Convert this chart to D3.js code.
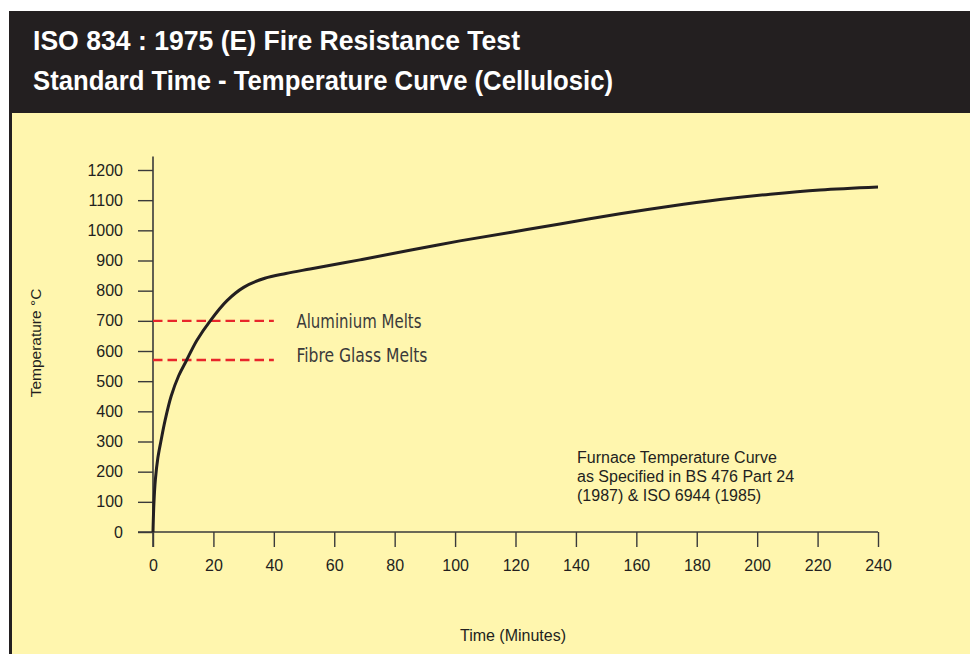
<!DOCTYPE html>
<html>
<head>
<meta charset="utf-8">
<script src="https://cdnjs.cloudflare.com/ajax/libs/d3/7.8.5/d3.min.js"></script>
<style>
    body { margin: 0; padding: 0; background: #ffffff; }
    svg { display: block; }
    .axis text { font-family: "Liberation Sans", Arial, sans-serif; font-size: 16px; fill: #231f20; }
    .axis line { stroke: #3a3a3a; stroke-width: 1.4px; }
    .axis path { display: none; }
</style>
</head>
<body>
<script>
//wrap everything in a self-executing anonymous function
(function(){

    //time in minutes and furnace temperature
    var timeMin = [0, 0.3, 0.8, 1.6, 2.6, 4, 6, 8.5, 11, 14.5, 19, 24.5, 30, 37, 44, 52, 68.5, 85, 101.6, 118.2, 134.7, 154.6, 171.1, 187.7, 204.3, 220.8, 240];
    var tempC = [0, 95, 175, 245, 300, 370, 450, 518, 567, 635, 701, 767, 811, 841, 857, 872, 902, 934, 965, 993, 1021, 1055, 1080, 1102, 1120, 1134, 1144];

    //tick labels
    var xTicks = [0, 20, 40, 60, 80, 100, 120, 140, 160, 180, 200, 220, 240];
    var yTicks = [0, 100, 200, 300, 400, 500, 600, 700, 800, 900, 1000, 1100, 1200];

    //melting point reference lines
    var meltNames = ["Aluminium Melts", "Fibre Glass Melts"];
    var meltTemps = [700, 570];
    var meltSpan = [0, 40]; //minutes covered by the dashed lines

    var titleLines = ["ISO 834 : 1975 (E) Fire Resistance Test", "Standard Time - Temperature Curve (Cellulosic)"];
    var noteLines = ["Furnace Temperature Curve", "as Specified in BS 476 Part 24", "(1987) & ISO 6944 (1985)"];

    window.onload = setChart();

    function setChart(){
        var width = 970,
            height = 654;

        var svg = d3.select("body")
            .append("svg")
            .attr("width", width)
            .attr("height", height);

        //dark frame and yellow panel
        svg.append("rect")
            .attr("x", 9)
            .attr("y", 11)
            .attr("width", width - 9)
            .attr("height", height - 11)
            .style("fill", "#231f20");

        svg.append("rect")
            .attr("x", 12)
            .attr("y", 113)
            .attr("width", width - 12)
            .attr("height", height - 113)
            .style("fill", "#fff6ae");

        //title
        svg.selectAll(".title")
            .data(titleLines)
            .enter()
            .append("text")
            .attr("class", "title")
            .attr("x", 33)
            .attr("y", function(d, i){ return 50 + i * 40; })
            .attr("textLength", function(d, i){ return i == 0 ? 487 : 580; })
            .attr("lengthAdjust", "spacingAndGlyphs")
            .style("font-family", "'Liberation Sans', Arial, sans-serif")
            .style("font-weight", "bold")
            .style("font-size", "28px")
            .style("fill", "#ffffff")
            .text(function(d){ return d; });

        //scales
        var x = d3.scaleLinear()
            .domain([0, 240])
            .range([153, 878]);

        var y = d3.scaleLinear()
            .domain([0, 1200])
            .range([532, 170]);

        //axes
        var xAxis = d3.axisBottom(x)
            .tickValues(xTicks)
            .tickSize(15)
            .tickPadding(13)
            .tickFormat(d3.format("d"));

        var yAxis = d3.axisLeft(y)
            .tickValues(yTicks)
            .tickSize(15)
            .tickPadding(15)
            .tickFormat(d3.format("d"));

        svg.append("g")
            .attr("class", "axis")
            .attr("transform", "translate(0," + y(0) + ")")
            .call(xAxis);

        svg.append("g")
            .attr("class", "axis")
            .attr("transform", "translate(" + x(0) + ",0)")
            .call(yAxis);

        //axis lines, the x line runs left under the y ticks
        svg.append("line")
            .attr("x1", x(0) - 15)
            .attr("x2", x(240))
            .attr("y1", y(0))
            .attr("y2", y(0))
            .style("stroke", "#3a3a3a")
            .style("stroke-width", 1.6);

        svg.append("line")
            .attr("x1", x(0))
            .attr("x2", x(0))
            .attr("y1", y(0) + 15)
            .attr("y2", y(1245))
            .style("stroke", "#3a3a3a")
            .style("stroke-width", 1.6);

        //dashed melting lines
        svg.selectAll(".melt")
            .data(meltTemps)
            .enter()
            .append("line")
            .attr("class", "melt")
            .attr("x1", x(meltSpan[0]))
            .attr("x2", x(meltSpan[1]))
            .attr("y1", function(d){ return y(d); })
            .attr("y2", function(d){ return y(d); })
            .style("stroke", "#e8262b")
            .style("stroke-width", 2.4)
            .style("stroke-dasharray", "9.5,5");

        svg.selectAll(".meltLabel")
            .data(meltNames)
            .enter()
            .append("text")
            .attr("class", "meltLabel")
            .attr("x", x(47.5))
            .attr("y", function(d, i){ return y(meltTemps[i]) + (i == 0 ? 7 : 2); })
            .attr("textLength", function(d, i){ return i == 0 ? 125 : 131; })
            .attr("lengthAdjust", "spacingAndGlyphs")
            .style("font-family", "'Liberation Sans Narrow', 'DejaVu Sans Condensed', sans-serif")
            .style("font-size", "19px")
            .style("fill", "#3a3a3a")
            .text(function(d){ return d; });

        //furnace curve
        var line = d3.line()
            .x(function(d, i){ return x(timeMin[i]); })
            .y(function(d){ return y(d); })
            .curve(d3.curveCatmullRom.alpha(0.5));

        svg.append("path")
            .datum(tempC)
            .attr("d", line)
            .style("fill", "none")
            .style("stroke", "#231f20")
            .style("stroke-width", 3);

        //note
        svg.selectAll(".note")
            .data(noteLines)
            .enter()
            .append("text")
            .attr("class", "note")
            .attr("x", 577)
            .attr("y", function(d, i){ return 463 + i * 19; })
            .style("font-family", "'Liberation Sans', Arial, sans-serif")
            .style("font-size", "16px")
            .style("fill", "#231f20")
            .text(function(d){ return d; });

        //axis titles
        svg.append("text")
            .attr("transform", "translate(41,343) rotate(-90)")
            .attr("text-anchor", "middle")
            .style("font-family", "'Liberation Sans', Arial, sans-serif")
            .style("font-size", "15.5px")
            .style("fill", "#231f20")
            .text("Temperature \u00B0C");

        svg.append("text")
            .attr("x", 513)
            .attr("y", 641)
            .attr("text-anchor", "middle")
            .style("font-family", "'Liberation Sans Narrow', 'Liberation Sans', sans-serif")
            .style("font-size", "16px")
            .style("fill", "#231f20")
            .text("Time (Minutes)");
    };
})();
</script>
</body>
</html>
